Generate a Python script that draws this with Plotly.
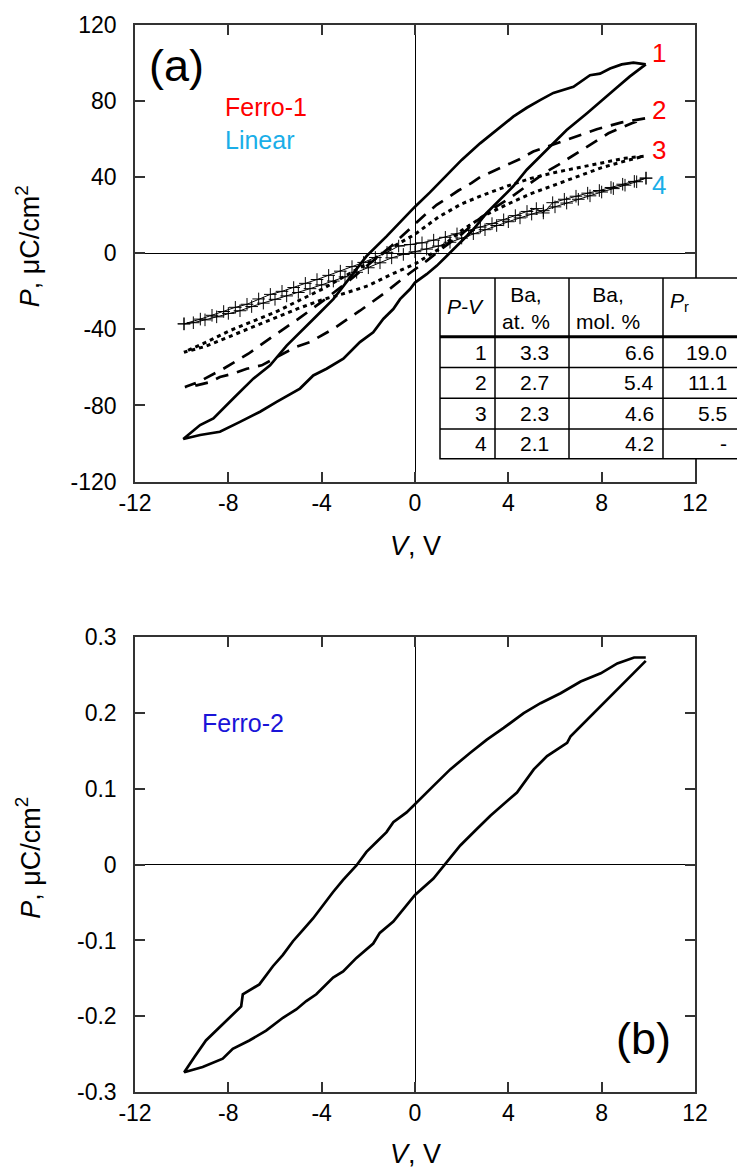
import plotly.graph_objects as go

# ---------------- panel (a): P-V loops 1-4 ----------------
# loop 1 (solid): descending branch, then ascending branch
v1_down = [9.89, 9.36, 8.86, 8.36, 7.93, 7.5, 6.79, 5.93, 5.36, 4.79, 4.21, 3.5, 2.79, 2.0, 1.36,
           0.64, 0.0, -0.64, -1.21, -2.07, -2.5, -2.93, -3.5, -4.21, -4.93, -5.5, -6.21, -6.93,
           -7.79, -8.64, -9.21, -9.93]
p1_down = [99.3, 100.2, 99.3, 97.1, 94.4, 93.6, 87.5, 84.3, 80.5, 76.5, 71.8, 64.8, 57.8, 49.1, 41.0,
           32.0, 24.5, 16.0, 9.0, -1.4, -8.4, -15.4, -24.1, -32.8, -41.5, -48.5, -58.9, -65.9,
           -76.3, -86.8, -90.3, -97.6]
v1_up = [-9.93, -9.21, -8.36, -7.5, -6.64, -5.93, -4.93, -4.36, -3.79, -3.07, -2.36, -1.79, -1.36,
         -0.93, -0.64, -0.21, 0.0, 0.5, 0.93, 1.36, 1.93, 2.5, 3.07, 3.64, 4.21, 4.79, 5.36, 5.93,
         6.5, 7.36, 8.21, 8.64, 9.21, 9.89]
p1_up = [-97.6, -95.5, -93.8, -88.6, -83.3, -78.1, -71.1, -64.2, -60.7, -55.4, -46.7, -41.5, -34.5,
         -29.3, -24.1, -18.8, -15.4, -11.0, -6.6, -1.4, 5.5, 12.5, 21.2, 28.2, 35.2, 43.9, 50.9, 57.8,
         64.8, 73.5, 82.2, 87.0, 93.0, 99.3]

# loop 2 (dashed)
v2_down = [9.86, 8.86, 7.79, 6.71, 5.64, 5.07, 4.5, 3.93, 3.43, 2.79, 2.43, 1.86, 1.5, 0.93, 0.36,
           -0.21, -1.0, -2.0, -2.93, -3.93, -5.0, -6.14, -7.14, -8.21, -9.29, -9.86]
p2_down = [70.9, 68.8, 65.2, 60.5, 56.1, 53.5, 49.6, 46.5, 43.5, 40.0, 37.0, 33.0, 30.0, 25.5, 19.5,
           13.0, 4.0, -6.0, -15.4, -24.9, -34.5, -44.1, -52.8, -60.7, -67.7, -70.3]
v2_up = [-9.86, -9.36, -8.79, -8.36, -7.79, -7.21, -6.57, -5.14, -4.5, -3.5, -2.36, -1.36, -0.29,
         0.5, 1.21, 2.0, 2.64, 3.5, 4.07, 4.64, 5.64, 6.14, 7.14, 8.29, 9.29, 9.86]
p2_up = [-70.3, -69.4, -67.7, -65.0, -63.3, -60.7, -58.9, -49.4, -46.7, -39.7, -30.2, -21.4, -11.0,
         -4.0, 3.0, 10.0, 17.0, 24.7, 29.1, 34.3, 43.0, 46.5, 54.4, 63.1, 68.3, 70.9]

# loop 3 (dotted)
v3_down = [9.8, 9.0, 8.0, 7.0, 6.0, 5.0, 4.0, 3.0, 2.0, 1.0, 0.0, -1.0, -2.0, -3.0, -4.0, -5.0,
           -6.0, -7.0, -8.0, -9.0, -9.9]
p3_down = [51.0, 50.0, 47.5, 45.0, 42.5, 39.5, 35.5, 31.0, 26.0, 19.0, 10.0, 3.0, -5.0, -12.0, -19.0,
           -25.0, -31.0, -36.0, -41.0, -47.0, -52.0]
v3_up = [-9.9, -9.0, -8.0, -7.0, -6.0, -5.0, -4.0, -3.0, -2.0, -1.0, 0.0, 1.0, 2.0, 3.0, 4.0, 5.0,
         6.0, 7.0, 8.0, 9.0, 9.8]
p3_up = [-52.0, -49.0, -44.0, -39.0, -34.0, -29.0, -24.5, -21.0, -17.0, -11.0, -5.6, 2.0, 12.0, 20.0,
         26.0, 31.5, 36.0, 40.5, 45.0, 48.5, 51.0]

# loop 4 (thin line with crosses)
v4_down = [9.9, 9.4, 8.9, 8.4, 7.9, 7.4, 6.9, 6.4, 5.9, 5.5, 5.2, 4.8, 4.3, 3.8, 3.3, 2.8, 2.3, 1.8,
           1.3, 0.8, 0.3, -0.2, -0.7, -1.2, -1.7, -2.2, -2.7, -3.2, -3.7, -4.2, -4.7, -5.2, -5.7,
           -6.2, -6.7, -7.2, -7.7, -8.2, -8.7, -9.2, -9.9]
p4_down = [39.5, 37.8, 36.3, 34.6, 33.0, 31.6, 30.0, 28.4, 26.6, 21.2, 23.5, 22.0, 19.8, 17.6, 15.6,
           13.8, 12.0, 10.2, 8.4, 6.9, 5.5, 4.6, 3.8, 0.5, -2.2, -4.8, -7.0, -9.4, -11.6, -13.8,
           -15.8, -18.0, -20.0, -21.6, -24.0, -26.8, -28.4, -30.6, -32.6, -34.6, -37.1]
v4_up = [-9.9, -9.5, -9.0, -8.5, -8.0, -7.5, -7.0, -6.5, -6.0, -5.5, -5.0, -4.5, -4.0, -3.5, -3.0,
         -2.5, -2.0, -1.5, -1.0, -0.5, 0.0, 0.5, 1.0, 1.5, 2.0, 2.5, 3.0, 3.5, 4.0, 4.5, 5.0, 5.5,
         6.0, 6.5, 7.0, 7.5, 8.0, 8.5, 9.0, 9.5, 9.9]
p4_up = [-37.1, -36.5, -35.0, -33.4, -31.6, -30.2, -28.0, -26.2, -24.2, -22.4, -20.6, -18.6, -16.6,
         -14.6, -12.4, -10.0, -7.6, -5.0, -2.4, -0.6, 0.8, 2.2, 3.8, 5.8, 8.0, 10.3, 12.4, 14.6,
         16.6, 18.6, 20.6, 22.4, 24.4, 26.4, 28.4, 30.2, 32.2, 34.0, 35.8, 37.6, 39.5]

# ---------------- panel (b): Ferro-2 loop ----------------
vb_down = [9.89, 9.39, 8.67, 7.96, 7.1, 6.24, 5.38, 4.66, 3.8, 3.08, 2.37, 1.51, 0.79, 0.0, -0.36,
           -0.93, -1.22, -1.65, -2.08, -2.51, -3.08, -3.51, -3.94, -4.37, -4.8, -5.23, -5.66,
           -6.09, -6.67, -7.38, -7.45, -8.24, -8.96, -9.46, -9.89]
pb_down = [0.2735, 0.2735, 0.2657, 0.2526, 0.2417, 0.2263, 0.2132, 0.2001, 0.1805, 0.1651, 0.1477,
           0.1258, 0.104, 0.080, 0.069, 0.056, 0.043, 0.030, 0.017, -0.001, -0.020, -0.036, -0.053,
           -0.071, -0.086, -0.101, -0.119, -0.134, -0.158, -0.171, -0.187, -0.210, -0.232, -0.254,
           -0.274]
vb_up = [-9.89, -9.1, -8.24, -7.81, -7.1, -6.38, -5.66, -5.09, -4.66, -4.23, -3.51, -3.08, -2.51,
         -1.79, -1.51, -0.93, -0.36, 0.0, 0.79, 1.29, 1.94, 2.65, 3.23, 4.37, 5.09, 5.66, 6.52, 6.67,
         7.38, 8.24, 9.1, 9.89]
pb_up = [-0.274, -0.267, -0.256, -0.243, -0.232, -0.219, -0.202, -0.191, -0.180, -0.171, -0.149,
         -0.141, -0.123, -0.104, -0.090, -0.075, -0.053, -0.040, -0.0183, 0.0013, 0.0254, 0.0472,
         0.0647, 0.0953, 0.1258, 0.1434, 0.1608, 0.1696, 0.1913, 0.2176, 0.2438, 0.269]

# ---------------- inset table ----------------
tbl_headers = ["<i>P-V</i>", "Ba,<br>at. %", "Ba,<br>mol. %", "<i>P</i><sub>r</sub>"]
tbl_pv = ["1", "2", "3", "4"]
tbl_ba_at = ["3.3", "2.7", "2.3", "2.1"]
tbl_ba_mol = ["6.6", "5.4", "4.6", "4.2"]
tbl_pr = ["19.0", "11.1", "5.5", "-"]

# ---------------- ticks ----------------
v_ticks = [-12, -8, -4, 0, 4, 8, 12]
v_ticktext = ["-12", "-8", "-4", "0", "4", "8", "12"]
pa_ticks = [-120, -80, -40, 0, 40, 80, 120]
pa_ticktext = ["-120", "-80", "-40", "0", "40", "80", "120"]
pb_ticks = [-0.3, -0.2, -0.1, 0, 0.1, 0.2, 0.3]
pb_ticktext = ["-0.3", "-0.2", "-0.1", "0", "0.1", "0.2", "0.3"]

FONT = "Liberation Sans, Arial, sans-serif"
W, H = 737, 1173
ML, MR, MT, MB = 135, 42, 17, 81
PW, PH = W - ML - MR, H - MT - MB


def px(x):
    return (x - ML) / PW


def py(y):
    return (H - MB - y) / PH


fig = go.Figure()

thick = 2.7
fig.add_trace(go.Scatter(x=v1_down + v1_up, y=p1_down + p1_up, mode="lines",
                         line=dict(color="black", width=thick), xaxis="x", yaxis="y"))
fig.add_trace(go.Scatter(x=v2_down + v2_up, y=p2_down + p2_up, mode="lines",
                         line=dict(color="black", width=thick, dash="13px,9px"), xaxis="x", yaxis="y"))
fig.add_trace(go.Scatter(x=v3_down + v3_up, y=p3_down + p3_up, mode="lines",
                         line=dict(color="black", width=3, dash="4px,4px"), xaxis="x", yaxis="y"))
fig.add_trace(go.Scatter(x=v4_down + v4_up, y=p4_down + p4_up, mode="lines+markers",
                         line=dict(color="black", width=1),
                         marker=dict(symbol="cross-thin", size=9, color="black",
                                     line=dict(color="black", width=1)),
                         xaxis="x", yaxis="y"))
fig.add_trace(go.Scatter(x=vb_down + vb_up, y=pb_down + pb_up, mode="lines",
                         line=dict(color="black", width=thick), xaxis="x2", yaxis="y2"))

axis_common = dict(
    showline=True, linecolor="#333", linewidth=1.5, mirror="allticks",
    ticks="inside", ticklen=10, tickwidth=1.5, tickcolor="#333",
    showgrid=False, zeroline=True, zerolinecolor="black", zerolinewidth=1.3,
    tickfont=dict(family=FONT, size=23, color="black"),
)

fig.update_layout(
    width=W, height=H,
    margin=dict(l=ML, r=MR, t=MT, b=MB),
    paper_bgcolor="white", plot_bgcolor="white",
    showlegend=False,
    xaxis=dict(domain=[0, 1], anchor="y", range=[-12, 12], tickvals=v_ticks, ticktext=v_ticktext,
               ticklabelstandoff=0, **axis_common),
    yaxis=dict(domain=[py(477), 1], anchor="x", range=[-120, 120], tickvals=pa_ticks,
               ticktext=pa_ticktext, ticklabelstandoff=12, **axis_common),
    xaxis2=dict(domain=[0, 1], anchor="y2", range=[-12, 12], tickvals=v_ticks, ticktext=v_ticktext,
                ticklabelstandoff=0, **axis_common),
    yaxis2=dict(domain=[0, py(634)], anchor="x2", range=[-0.3, 0.3], tickvals=pb_ticks,
                ticktext=pb_ticktext, ticklabelstandoff=12, **axis_common),
)

ann = []


def text(x, y, s, size, color="black", xanchor="center", angle=0):
    ann.append(dict(x=px(x), y=py(y), xref="paper", yref="paper", text=s, showarrow=False,
                    xanchor=xanchor, yanchor="middle", textangle=angle,
                    font=dict(family=FONT, size=size, color=color)))


# axis titles
text(28, 240, "<i>P</i>, μC/cm<sup>2</sup>", 27, angle=-90)
text(28, 856, "<i>P</i>, μC/cm<sup>2</sup>", 27, angle=-90)
text(415, 542, "<i>V</i>, V", 27)
text(415, 1154, "<i>V</i>, V", 27)

# panel labels and legends
text(147, 58, "(a)", 45, xanchor="left")
text(614, 1038, "(b)", 45, xanchor="left")
text(223, 100, "Ferro-1", 25, color="#ff0000", xanchor="left")
text(223, 133, "Linear", 25, color="#1aaee8", xanchor="left")
text(200, 720, "Ferro-2", 25, color="#1a14d8", xanchor="left")

# curve numbers
num_colors = ["#ff0000", "#ff0000", "#ff0000", "#1aaee8"]
num_y = [45, 103, 143, 178]
for lab, yy, c in zip(tbl_pv, num_y, num_colors):
    text(650, yy, lab, 26, color=c, xanchor="left")

# table frame
t_left, t_right, t_top, t_head, t_bot = 440, 748, 272, 331, 454
col_x = [440, 495, 569, 663]
row_y = [331, 362, 393, 424, 454]
shapes = [dict(type="rect", xref="paper", yref="paper", x0=px(t_left), x1=px(t_right),
               y0=py(t_bot), y1=py(t_top), fillcolor="white", line=dict(color="black", width=1.5),
               layer="above")]
for cx in col_x[1:]:
    shapes.append(dict(type="line", xref="paper", yref="paper", x0=px(cx), x1=px(cx),
                       y0=py(t_top), y1=py(t_bot), line=dict(color="black", width=1.5), layer="above"))
shapes.append(dict(type="line", xref="paper", yref="paper", x0=px(t_left), x1=px(t_right),
                   y0=py(t_head), y1=py(t_head), line=dict(color="black", width=3), layer="above"))
for ry in row_y[1:-1]:
    shapes.append(dict(type="line", xref="paper", yref="paper", x0=px(t_left), x1=px(t_right),
                       y0=py(ry), y1=py(ry), line=dict(color="black", width=1.5), layer="above"))

# table text
tfs = 21
text(445, 301, tbl_headers[0], tfs, xanchor="left")
text(500, 302, tbl_headers[1], tfs, xanchor="left")
text(574, 302, tbl_headers[2], tfs, xanchor="left")
text(668, 296, tbl_headers[3], tfs, xanchor="left")
for i in range(4):
    yc = (row_y[i] + row_y[i + 1]) / 2
    text(489, yc, tbl_pv[i], tfs, xanchor="right")
    text(534, yc, tbl_ba_at[i], tfs)
    text(656, yc, tbl_ba_mol[i], tfs, xanchor="right")
    text(729, yc, tbl_pr[i], tfs, xanchor="right")

fig.update_layout(annotations=ann, shapes=shapes)
fig.write_html("out.html")
